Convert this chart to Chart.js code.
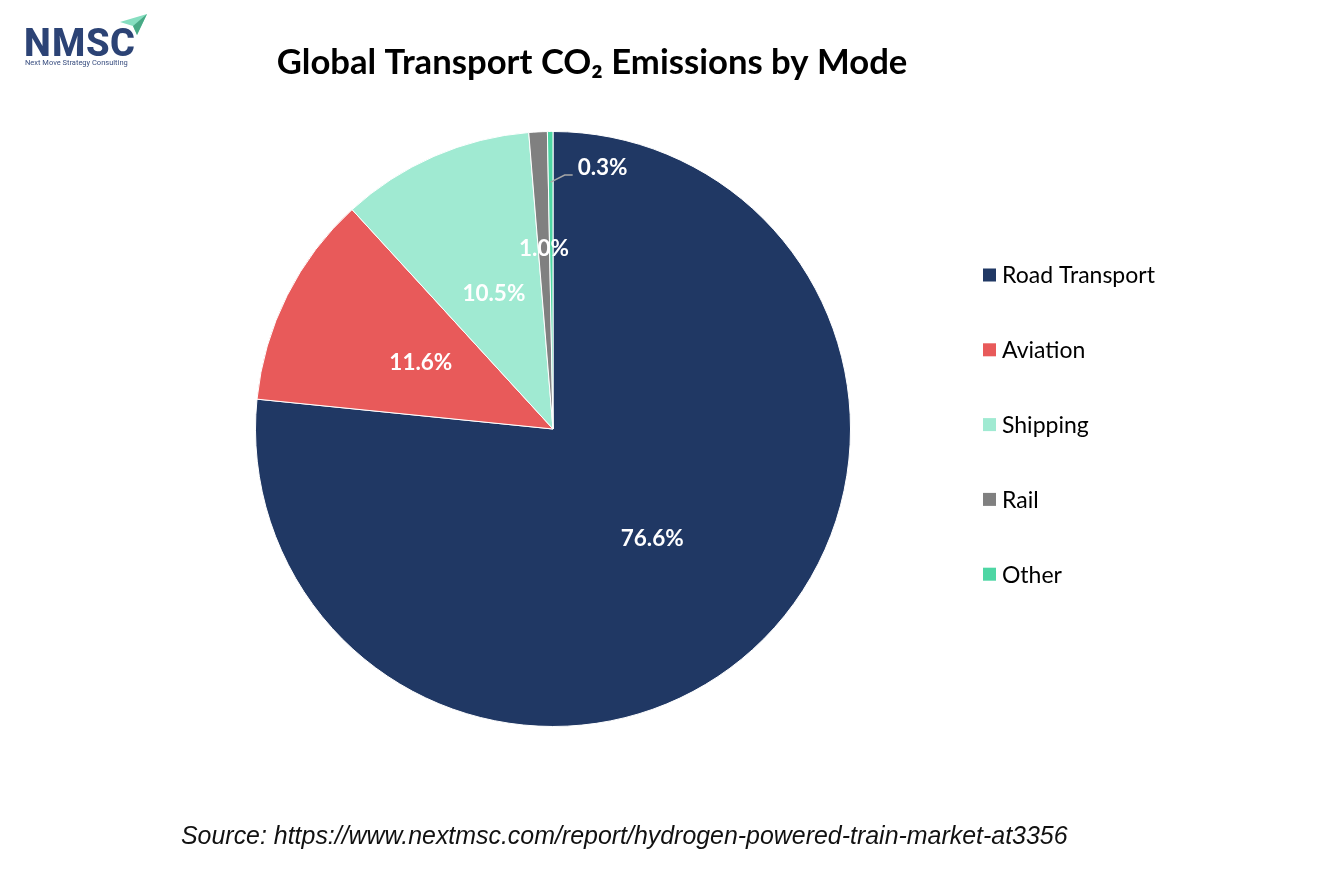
<!DOCTYPE html>
<html>
<head>
<meta charset="utf-8">
<script src="https://cdn.jsdelivr.net/npm/chart.js@4.4.1/dist/chart.umd.min.js"></script>
<style>
  html, body { margin: 0; padding: 0; background: #ffffff; }
  #wrap { position: relative; width: 1334px; height: 889px; }
  canvas { display: block; }
</style>
</head>
<body>
<div id="wrap"><canvas id="c" width="1334" height="889"></canvas></div>
<script>
const categories = ['Road Transport', 'Aviation', 'Shipping', 'Rail', 'Other'];
const shares = [76.6, 11.6, 10.5, 1.0, 0.3];
const percentLabels = ['76.6%', '11.6%', '10.5%', '1.0%', '0.3%'];
const sliceColors = ['#203864', '#E85A5A', '#A0EAD2', '#808080', '#4ED6A4'];

const titleText = 'Global Transport CO\u2082 Emissions by Mode';
const sourceText = 'Source: https://www.nextmsc.com/report/hydrogen-powered-train-market-at3356';

function fitFont(ctx, text, base, weight, family, targetW) {
  ctx.font = weight + ' ' + base + 'px ' + family;
  const w = ctx.measureText(text).width;
  return base * targetW / w;
}

const decorPlugin = {
  id: 'decor',
  afterDraw(chart) {
    const ctx = chart.ctx;
    ctx.save();

    // ---- Logo ----
    ctx.textBaseline = 'alphabetic';
    ctx.textAlign = 'left';
    ctx.font = '800 38px Roboto';
    const letters = ['N', 'M', 'S', 'C'];
    const lx = [24, 52, 86, 110];
    letters.forEach((l, i) => {
      ctx.fillStyle = '#2C4375';
      ctx.fillText(l, lx[i], 56);
    });
    ctx.font = '7.5px Roboto';
    ctx.fillStyle = '#3a4f80';
    ctx.fillText('Next Move Strategy Consulting', 25, 65);
    // arrow
    ctx.beginPath();
    ctx.moveTo(120, 22); ctx.lineTo(147, 14); ctx.lineTo(137, 35); ctx.lineTo(133, 26); ctx.closePath();
    ctx.fillStyle = '#86DEC0'; ctx.fill();
    ctx.beginPath();
    ctx.moveTo(133, 26); ctx.lineTo(147, 14); ctx.lineTo(137, 35); ctx.closePath();
    ctx.fillStyle = '#48A985'; ctx.fill();

    // ---- Title ----
    ctx.fillStyle = '#000000';
    ctx.textAlign = 'center';
    let fs = fitFont(ctx, titleText, 32, 'bold', 'Lato', 631);
    ctx.font = 'bold ' + fs + 'px Lato';
    ctx.fillText(titleText, 592, 74);

    // ---- Source ----
    ctx.fillStyle = '#111111';
    ctx.textAlign = 'left';
    fs = fitFont(ctx, sourceText, 22, 'italic', '"Liberation Sans"', 887);
    ctx.font = 'italic ' + fs + 'px "Liberation Sans"';
    ctx.fillText(sourceText, 181, 844);

    // ---- Data labels ----
    const meta = chart.getDatasetMeta(0);
    const radFrac = [0.497, 0.497, 0.497, 0.607, 0];
    ctx.font = 'bold 22.5px Lato';
    ctx.fillStyle = '#ffffff';
    ctx.textAlign = 'center';
    ctx.textBaseline = 'middle';
    meta.data.forEach((arc, i) => {
      const p = arc.getProps(['x', 'y', 'startAngle', 'endAngle', 'outerRadius'], true);
      const mid = (p.startAngle + p.endAngle) / 2;
      if (i < 4) {
        const r = p.outerRadius * radFrac[i];
        ctx.fillText(percentLabels[i], p.x + Math.cos(mid) * r, p.y + Math.sin(mid) * r);
      } else {
        const r0 = p.outerRadius * 0.83;
        const sx = p.x + Math.cos(mid) * r0, sy = p.y + Math.sin(mid) * r0;
        ctx.strokeStyle = '#A6A6A6';
        ctx.lineWidth = 1.5;
        ctx.beginPath();
        ctx.moveTo(sx, sy);
        ctx.lineTo(sx + 14, sy - 7);
        ctx.lineTo(sx + 22, sy - 7);
        ctx.stroke();
        ctx.fillStyle = '#ffffff';
        ctx.textAlign = 'left';
        ctx.fillText(percentLabels[i], sx + 27, sy - 14);
      }
    });

    // ---- Legend ----
    ctx.textAlign = 'left';
    ctx.textBaseline = 'middle';
    ctx.font = '23px Lato';
    categories.forEach((name, i) => {
      const cy = 275 + i * 74.8;
      ctx.fillStyle = sliceColors[i];
      ctx.fillRect(983, cy - 6.5, 13, 13);
      ctx.fillStyle = '#000000';
      ctx.fillText(name, 1002, cy + 1);
    });

    ctx.restore();
  }
};

new Chart(document.getElementById('c'), {
  type: 'pie',
  data: {
    labels: categories,
    datasets: [{
      data: shares,
      backgroundColor: sliceColors,
      borderColor: '#ffffff',
      borderWidth: 1
    }]
  },
  options: {
    responsive: false,
    animation: false,
    rotation: 0,
    layout: { padding: { left: 255, right: 483, top: 131, bottom: 162 } },
    plugins: {
      legend: { display: false },
      title: { display: false },
      tooltip: { enabled: false }
    }
  },
  plugins: [decorPlugin]
});
</script>
</body>
</html>
